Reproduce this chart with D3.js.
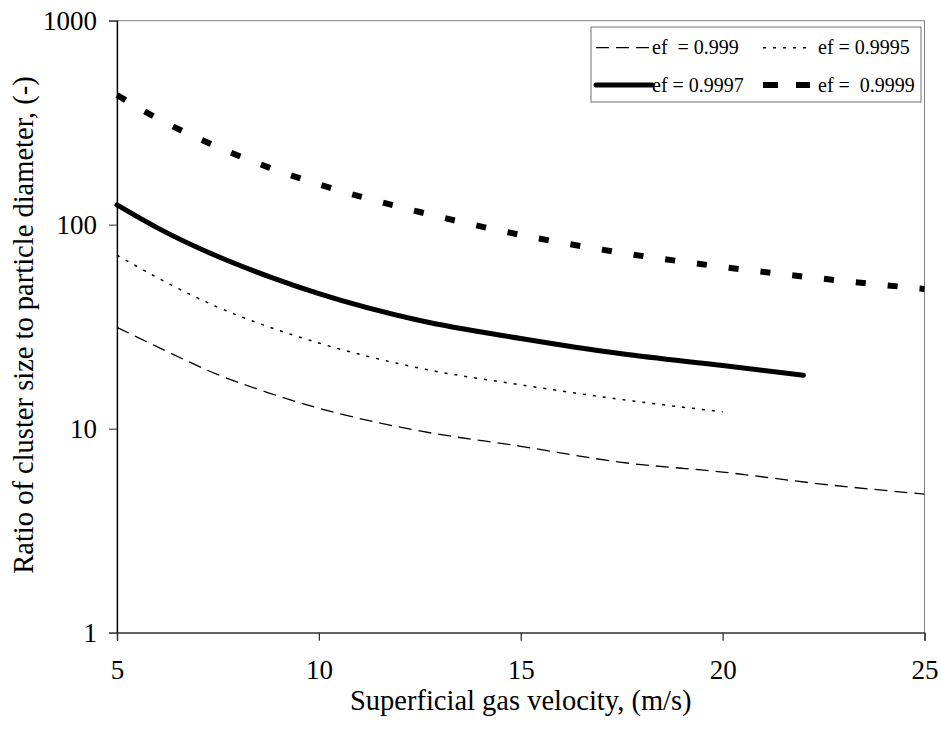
<!DOCTYPE html>
<html><head><meta charset="utf-8">
<script src="https://cdn.jsdelivr.net/npm/d3@7"></script>
<style>
body{margin:0;background:#fff}
svg{display:block;font-family:"Liberation Serif","Times New Roman",serif}
</style>
</head><body>
<svg id="c" width="941" height="735"></svg>
<script>
// ---- data ----
const xTicks = [5, 10, 15, 20, 25];
const yTicks = [1, 10, 100, 1000];

const vel999  = [5, 6, 7.5, 8.75, 10, 12.5, 15, 17.5, 20, 22.5, 25];
const ratio999 = [31.4, 25.2, 18.4, 15.0, 12.6, 9.75, 8.2, 6.84, 6.13, 5.34, 4.78];

const vel9995  = [5, 6, 7.5, 8.75, 10, 12.5, 15, 17.5, 20];
const ratio9995 = [71, 55, 39.4, 31.6, 26.3, 19.8, 16.4, 13.9, 12.1];

const vel9997  = [5, 6, 7.5, 8.75, 10, 12.5, 15, 17.5, 20, 22];
const ratio9997 = [125, 96.5, 69.8, 55.8, 45.9, 33.9, 27.7, 23.3, 20.4, 18.3];

const vel9999  = [5, 6, 7.5, 8.75, 10, 12.5, 15, 17.5, 20, 22.5, 25];
const ratio9999 = [432, 332, 240, 191, 157.7, 115.4, 89.1, 72.8, 62.1, 54.3, 48.4];

const seriesNames = ["ef  = 0.999", "ef = 0.9995", "ef = 0.9997", "ef =  0.9999"];

const xTitle = "Superficial gas velocity, (m/s)";
const yTitle = "Ratio of cluster size to particle diameter, (-)";

// ---- layout ----
const svg = d3.select("#c");
const L = 117, R = 924.5, T = 20.7, B = 632.7;

const x = d3.scaleLinear().domain([5, 25]).range([L, R]);
const y = d3.scaleLog().domain([1, 1000]).range([B, T]);

const styles = [
  {w: 1.3, dash: "13,7", cap: "butt", ldash: "13,7"},
  {w: 1.5, dash: "3,7", cap: "butt", ldash: "3,7"},
  {w: 5, dash: null, cap: "round", ldash: null},
  {w: 6, dash: "10,22", cap: "butt", ldash: "15,18"}
];

const series = [
  {name: seriesNames[0], xs: vel999, ys: ratio999},
  {name: seriesNames[1], xs: vel9995, ys: ratio9995},
  {name: seriesNames[2], xs: vel9997, ys: ratio9997},
  {name: seriesNames[3], xs: vel9999, ys: ratio9999}
];

// plot border
svg.append("rect").attr("x", L).attr("y", T).attr("width", R - L).attr("height", B - T)
  .attr("fill", "none").attr("stroke", "#808080").attr("stroke-width", 1);

// lines
const line = d3.line().x(d => x(d[0])).y(d => y(d[1])).curve(d3.curveMonotoneX);
series.forEach((s, i) => {
  const pts = s.xs.map((v, j) => [v, s.ys[j]]);
  const st = styles[i];
  const p = svg.append("path").attr("d", line(pts)).attr("fill", "none")
    .attr("stroke", "#000").attr("stroke-width", st.w).attr("stroke-linecap", st.cap)
    .attr("stroke-linejoin", "round");
  if (st.dash) p.attr("stroke-dasharray", st.dash);
});

// axes
const yAxis = d3.axisLeft(y).tickValues(yTicks).tickFormat(d3.format("d")).tickSize(8).tickPadding(12);
const gy = svg.append("g").attr("transform", `translate(${L},0)`).call(yAxis);
gy.select(".domain").attr("stroke", "#000").attr("stroke-width", 1.3);
gy.selectAll(".tick line").attr("stroke", "#555").attr("stroke-width", 1.3);
gy.selectAll(".tick text").attr("font-size", 27).attr("font-family", "Liberation Serif").attr("fill", "#000");

const xAxis = d3.axisBottom(x).tickValues(xTicks).tickSize(8).tickPadding(19);
const gx = svg.append("g").attr("transform", `translate(0,${B})`).call(xAxis);
gx.select(".domain").attr("stroke", "#333").attr("stroke-width", 1.3);
gx.selectAll(".tick line").attr("stroke", "#333").attr("stroke-width", 1.3);
gx.selectAll(".tick text").attr("font-size", 27).attr("font-family", "Liberation Serif").attr("fill", "#000");

// titles
svg.append("text").attr("x", (L + R) / 2).attr("y", 710).attr("text-anchor", "middle")
  .attr("font-family", "Liberation Serif").attr("font-size", 28.5).text(xTitle);
svg.append("text").attr("transform", `translate(33,325) rotate(-90)`).attr("text-anchor", "middle")
  .attr("font-family", "Liberation Serif").attr("font-size", 28.5).text(yTitle);

// legend
const lg = svg.append("g");
lg.append("rect").attr("x", 591).attr("y", 27).attr("width", 330).attr("height", 75)
  .attr("fill", "#fff").attr("stroke", "#707070").attr("stroke-width", 1);
const pos = [
  {lx1: 596, lx2: 652, ly: 47.7, tx: 652, ty: 54},
  {lx1: 763, lx2: 810, ly: 47.7, tx: 818, ty: 54},
  {lx1: 596, lx2: 652, ly: 85, tx: 652, ty: 91.7},
  {lx1: 763, lx2: 810, ly: 85, tx: 818, ty: 91.7}
];
series.forEach((s, i) => {
  const st = styles[i], p = pos[i];
  const l = lg.append("line").attr("x1", p.lx1).attr("x2", p.lx2).attr("y1", p.ly).attr("y2", p.ly)
    .attr("stroke", "#000").attr("stroke-width", st.w).attr("stroke-linecap", st.cap);
  if (st.ldash) l.attr("stroke-dasharray", st.ldash);
  lg.append("text").attr("x", p.tx).attr("y", p.ty).attr("font-size", 20)
    .attr("font-family", "Liberation Serif")
    .style("white-space", "pre").text(s.name);
});
</script>
</body></html>
